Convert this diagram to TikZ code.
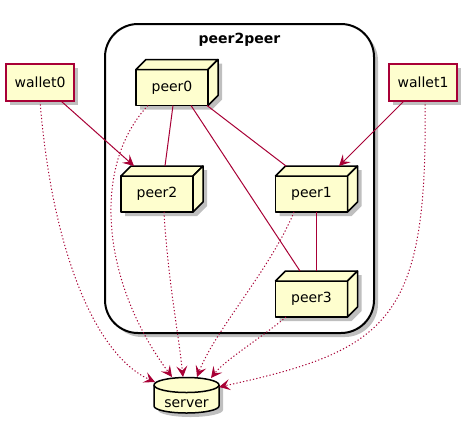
\documentclass[tikz,border=0pt]{standalone}
\usepackage{fontspec}
\setmainfont{DejaVu Sans}
\usetikzlibrary{arrows.meta,calc,shadows}
\definecolor{pfill}{HTML}{FEFECE}
\definecolor{pline}{HTML}{A80036}
\tikzset{
  txt/.style={font=\fontsize{14}{16}\selectfont},
  peerbox/.style={txt, draw=black, line width=1.5pt, fill=pfill, minimum width=72pt, minimum height=36pt, inner sep=0pt, outer sep=0pt, line join=round},
  peerface/.style={draw=black, line width=1.5pt, fill=pfill, line join=round},
  walletbox/.style={txt, draw=pline, line width=1.5pt, fill=pfill, minimum width=68pt, minimum height=37pt, inner sep=0pt, outer sep=0pt,
    drop shadow={shadow xshift=4pt, shadow yshift=-4pt, opacity=0.25, fill=black}},
  container/.style={draw=black, fill=white, line width=2pt, rounded corners=33pt, minimum width=269pt, minimum height=309pt, inner sep=0pt, outer sep=0pt,
    drop shadow={shadow xshift=4pt, shadow yshift=-4pt, opacity=0.25, fill=black}},
  shade/.style={fill=black, opacity=0.25, draw=none},
  link/.style={draw=pline, line width=1pt},
  arrowlink/.style={link, -{Stealth[length=11pt,width=11pt,inset=4.5pt]}},
  dotlink/.style={link, dash pattern=on 1.2pt off 2.2pt, -{Stealth[length=11pt,width=11pt,inset=4.5pt]}},
}
\newcommand{\peerbox}[4]{%
  \path[shade, shift={(#2,#3)}] (-32,-14) -- (-22,-24) -- (50,-24) -- (50,12) -- (40,22) -- (-32,22) -- cycle;
  \node[peerbox] (#1) at (#2,#3) {#4};
  \draw[peerface] (#1.north west) -- ++(10,-10) -- ([shift={(10,-10)}]#1.north east) -- (#1.north east) -- cycle;
  \draw[peerface] (#1.north east) -- ++(10,-10) -- ([shift={(10,-10)}]#1.south east) -- (#1.south east) -- cycle;
}
\begin{document}
\begin{tikzpicture}[x=1pt,y=-1pt]
\useasboundingbox (0,0) rectangle (468,429);
\fill[white] (0,0) rectangle (468,429);

% container
\node[container] (p2p) at (239.5,178.5) {};
\node[font=\fontsize{14}{16}\selectfont\bfseries] (title) at ($(p2p.north)+(0,16)$) {peer2peer};

% wallets
\node[walletbox] (wallet0) at (40,82.5) {wallet0};
\node[walletbox] (wallet1) at (423,82.5) {wallet1};

% peers
\peerbox{peer0}{172}{87.5}{peer0}
\peerbox{peer2}{157}{194}{peer2}
\peerbox{peer1}{311.5}{194}{peer1}
\peerbox{peer3}{311.5}{299}{peer3}

% server cylinder
\coordinate (srv) at (186.5,385);
\path[shade] (158,389) -- (158,410) arc[start angle=180, end angle=360, x radius=32.5pt, y radius=7pt] -- (223,389) arc[start angle=0, end angle=180, x radius=32.5pt, y radius=7.5pt] -- cycle;
\path[fill=pfill, draw=black, line width=1.5pt] (154,385) -- (154,406) arc[start angle=180, end angle=360, x radius=32.5pt, y radius=7pt] -- (219,385) arc[start angle=0, end angle=180, x radius=32.5pt, y radius=7.5pt] -- cycle;
\draw[black, line width=1.5pt] (154,385) arc[start angle=180, end angle=360, x radius=32.5pt, y radius=7.5pt];
\node[txt] (server) at (186.5,404) {server};

% solid links
\draw[link] ($(peer0.south)+(1,0)$) -- ($(peer2.north)+(8,-10)$);
\draw[link] ($(peer0.south)+(35,0)$) -- ($(peer1.north)+(-25.5,-10)$);
\draw[link] ($(peer0.south)+(19,0)$) -- ($(peer3.north)+(-11.5,-10)$);
\draw[link] ($(peer1.south)+(4.5,0)$) -- ($(peer3.north)+(4.5,-10)$);
\draw[arrowlink] ($(wallet0.south)+(21,0)$) -- ($(peer2.north)+(-23,-10)$);
\draw[arrowlink] ($(wallet1.south)+(-19,0)$) -- ($(peer1.north)+(27.5,-10)$);

% dotted links to server
\draw[dotlink] (wallet0.south) .. controls (52,250) and (95,355) .. ($(srv)+(-31.5,-3)$);
\draw[dotlink] ($(peer0.south)+(-24,0)$) .. controls (92,165) and (100,280) .. ($(srv)+(-14.5,-8)$);
\draw[dotlink] ($(peer2.south)+(7,0)$) .. controls (168,280) and (178,330) .. ($(srv)+(-3.5,-8)$);
\draw[dotlink] ($(peer1.south)+(-17.5,0)$) .. controls (270,270) and (215,330) .. ($(srv)+(10.5,-8)$);
\draw[dotlink] ($(peer3.south)+(-25.5,0)$) .. controls (265,335) and (225,360) .. ($(srv)+(24.5,-7)$);
\draw[dotlink] ($(wallet1.south)+(2,0)$) .. controls (428,320) and (390,350) .. ($(srv)+(32.5,2)$);
\end{tikzpicture}
\end{document}
